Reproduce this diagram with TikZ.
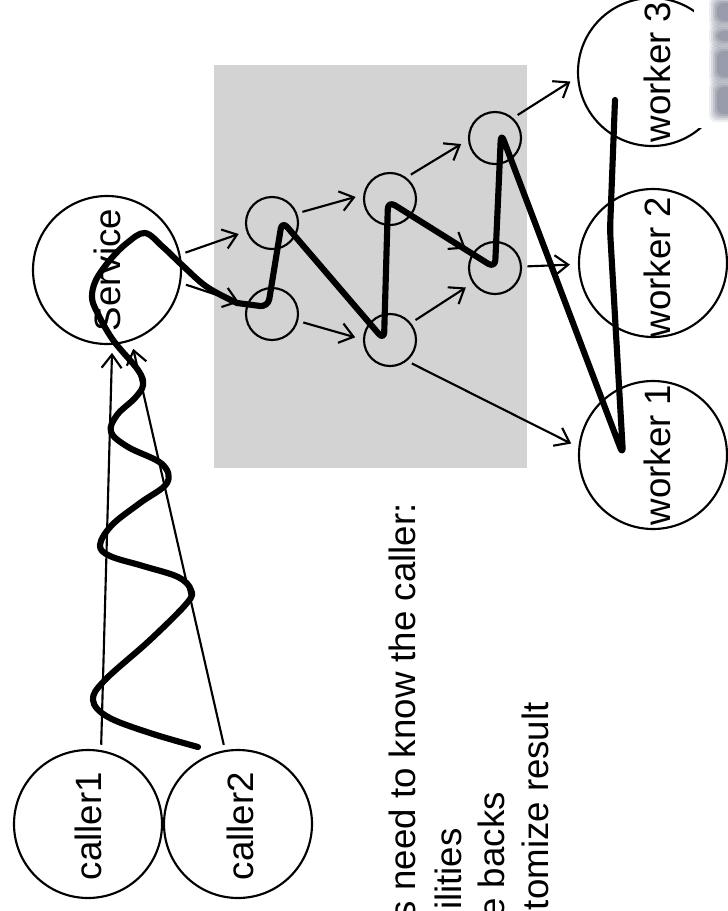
\documentclass[tikz,border=0pt]{standalone}
\usepackage{fontspec}
\setmainfont{Liberation Sans}
\usetikzlibrary{arrows.meta}
\definecolor{panel}{RGB}{211,211,211}
\definecolor{logoink}{RGB}{122,128,146}
\begin{document}
\begin{tikzpicture}[x=0.75pt,y=-0.75pt,
  bigc/.style={circle,draw,line width=1.6pt,minimum size=111pt,inner sep=0pt},
  smallc/.style={circle,draw,line width=1.6pt,minimum size=39pt,inner sep=0pt},
  lbl/.style={rotate=90,font=\fontsize{27.5}{33}\selectfont,inner sep=0pt},
  conn/.style={-{Straight Barb[length=10pt,width=15pt]},line width=1.6pt,shorten <=4pt,shorten >=6pt},
  trace/.style={line width=4.6pt,line cap=round,line join=round}]
\useasboundingbox (0,0) rectangle (728,911);
\clip (0,0) rectangle (728,911);

% shaded processing area
\fill[panel] (214,65) rectangle (527,468);

% callers, service and workers
\node[bigc] (caller1) at (88,824) {};
\node[bigc] (caller2) at (238,824) {};
\node[bigc] (service) at (107,270) {};
\node[bigc] (worker1) at (653,455) {};
\node[bigc] (worker2) at (653,263) {};
\node[bigc] (worker3) at (652,72) {};

\node[lbl] (caller1txt) at (88,826) {caller1};
\node[lbl] (caller2txt) at (240,826) {caller2};
\node[lbl] (servicetxt) at (107,270) {Service};
\node[lbl] (worker1txt) at (657,455) {worker 1};
\node[lbl] (worker2txt) at (657,267) {worker 2};
\node[lbl] (worker3txt) at (657,72) {worker 3};

% internal stages
\node[smallc] (A) at (272,223) {};
\node[smallc] (B) at (272,314) {};
\node[smallc] (C) at (390,199) {};
\node[smallc] (D) at (390,340) {};
\node[smallc] (E) at (495,138) {};
\node[smallc] (F) at (495,268) {};

% request flow
\draw[conn] (caller1.80) -- (service.-86);
\draw[conn] (caller2.100) -- (service.-71);
\draw[conn] (service.12) -- (A.198);
\draw[conn] (service.-10) -- (B.160);
\draw[conn] (A.21) -- (C.171);
\draw[conn] (B.-15) -- (D.179);
\draw[conn] (C.53) -- (E.184);
\draw[conn] (C.-35) -- (F.146);
\draw[conn] (D.39) -- (F.214);
\draw[conn] (D.-51) -- (worker1.174);
\draw[conn] (E.48) -- (worker3.184);
\draw[conn] (F.3) -- (worker2.181);

% hand-drawn trace of one call
\draw[trace] plot[smooth,tension=0.6] coordinates {
  (198,747) (150,733) (108,717) (93,700) (105,680) (150,640) (187,603)
  (191,590) (178,577) (143,566) (110,556) (100,545) (112,525) (140,503)
  (167,483) (162,464) (128,447) (111,432) (117,415) (135,398) (143,385)
  (138,370) (113,340) (97,312) (92,297) (96,280) (110,260) (127,243)
  (145,233) (163,247) (182,265) (207,287) (237,303)}
  [rounded corners=6pt] -- (268,307) -- (282,221) -- (384,340) -- (388,201)
  -- (495,268) -- (501,133) -- (623,455) -- (610,230) -- (615,100);

% bottom note
\node[lbl,anchor=base east] (note1) at (415,503) {s need to know the caller:};
\node[lbl,anchor=base east] (note2) at (461,828) {ilities};
\node[lbl,anchor=base east] (note3) at (504,792) {e backs};
\node[lbl,anchor=base east] (note4) at (548,702) {tomize result};

% corner logo, softened by stacked translucent layers
\fill[white] (694,0) rectangle (728,128);
\foreach \ya/\yb in {0/24, 28/44, 48/80, 84/117}{
  \foreach \g/\o in {5/0.12, 3/0.18, 1/0.25, -1/0.3, -3/0.35}{
    \fill[logoink,opacity=\o,rounded corners=5pt] (714-\g,\ya-\g) rectangle (734,\yb+\g);
  }
}
\end{tikzpicture}
\end{document}
